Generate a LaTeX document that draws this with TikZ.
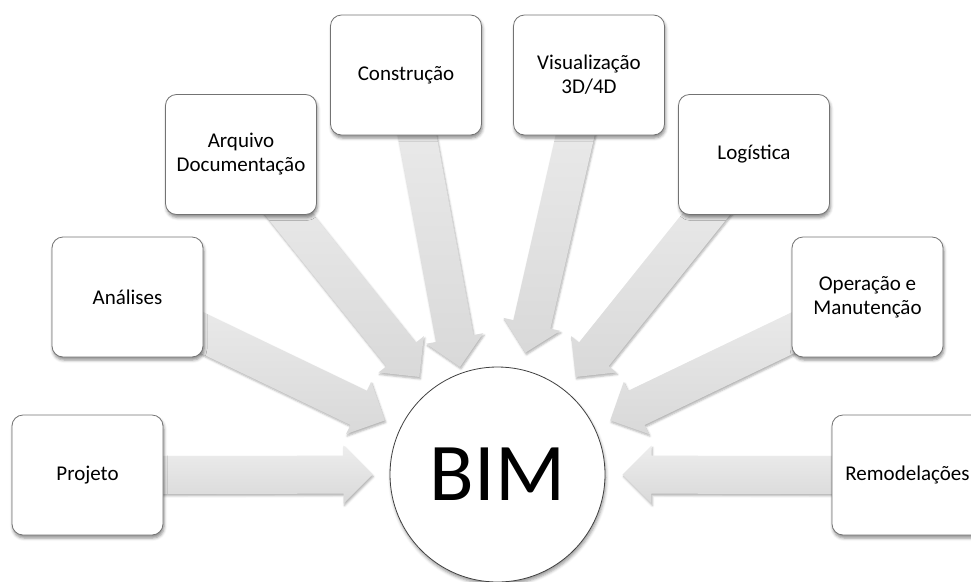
\documentclass[tikz,border=0pt]{standalone}
\usepackage{fontspec}
\setmainfont{Carlito}
\usetikzlibrary{calc,shadows.blur}

\pgfdeclarelayer{flows}
\pgfsetlayers{flows,main}

\tikzset{
  topic/.style={draw=gray!90!black, line width=0.8pt, fill=white,
    rounded corners=11pt, minimum width=151pt, minimum height=120pt,
    align=center, inner sep=2pt, font=\fontsize{21}{24}\selectfont,
    blur shadow={shadow xshift=1pt, shadow yshift=-3pt,
      shadow blur radius=3pt, shadow opacity=45}},
  hub/.style={circle, draw=black!75, line width=0.8pt, fill=white,
    minimum size=215pt, inner sep=0pt, font=\fontsize{82}{90}\selectfont,
    blur shadow={shadow xshift=1pt, shadow yshift=-3pt,
      shadow blur radius=3pt, shadow opacity=40}},
  flow/.style={top color=black!7, bottom color=black!15, draw=none,
    blur shadow={shadow xshift=1pt, shadow yshift=-2pt,
      shadow blur radius=2pt, shadow opacity=30}}
}

% Block arrow from the centre of node #1 to the tip coordinate #2:
% shaft 38pt wide, head 58pt wide and 29pt long.
\newcommand\flowarrow[2]{%
  \coordinate (hd) at ($(#2)!29pt!(#1)$);
  \path[flow] ($(#1)!19pt!90:(#2)$) -- ($(hd)!19pt!90:(#2)$)
    -- ($(hd)!29pt!90:(#2)$) -- (#2) -- ($(hd)!29pt!-90:(#2)$)
    -- ($(hd)!19pt!-90:(#2)$) -- ($(#1)!19pt!-90:(#2)$) -- cycle;
}

\begin{document}
\begin{tikzpicture}[x=1pt, y=-1pt]
  \path[use as bounding box] (0,0) rectangle (971,581);
  \clip (0,0) rectangle (971,581);

  % hub
  \node[hub] (bim) at (497.5,474.5) {BIM};

  % topics around the hub
  \node[topic] (proj)  at (87.5,475)   {Projeto};
  \node[topic] (anal)  at (127.5,297)  {Análises};
  \node[topic] (arq)   at (241,154.5)  {Arquivo\\Documentação};
  \node[topic] (cons)  at (406,75)     {Construção};
  \node[topic] (vis)   at (589,75)     {Visualização\\3D/4D};
  \node[topic] (log)   at (754,154.5)  {Logística};
  \node[topic] (oper)  at (867.5,297)  {Operação e\\Manutenção};
  \node[topic] (remod) at (907.5,475)  {Remodelações};

  % arrow tips, placed around the hub
  \coordinate (tproj)  at ($(bim)!125pt!(proj)$);
  \coordinate (tanal)  at ($(bim)!125pt!(anal)$);
  \coordinate (tarq)   at ($(bim)!125pt!(arq)$);
  \coordinate (tcons)  at (460,367);
  \coordinate (tvis)   at ($(bim)!125pt!(vis)$);
  \coordinate (tlog)   at ($(bim)!125pt!(log)$);
  \coordinate (toper)  at ($(bim)!125pt!(oper)$);
  \coordinate (tremod) at ($(bim)!125pt!(remod)$);

  \begin{pgfonlayer}{flows}
    \flowarrow{proj}{tproj}
    \flowarrow{anal}{tanal}
    \flowarrow{arq}{tarq}
    \flowarrow{cons}{tcons}
    \flowarrow{vis}{tvis}
    \flowarrow{log}{tlog}
    \flowarrow{oper}{toper}
    \flowarrow{remod}{tremod}
  \end{pgfonlayer}
\end{tikzpicture}
\end{document}
